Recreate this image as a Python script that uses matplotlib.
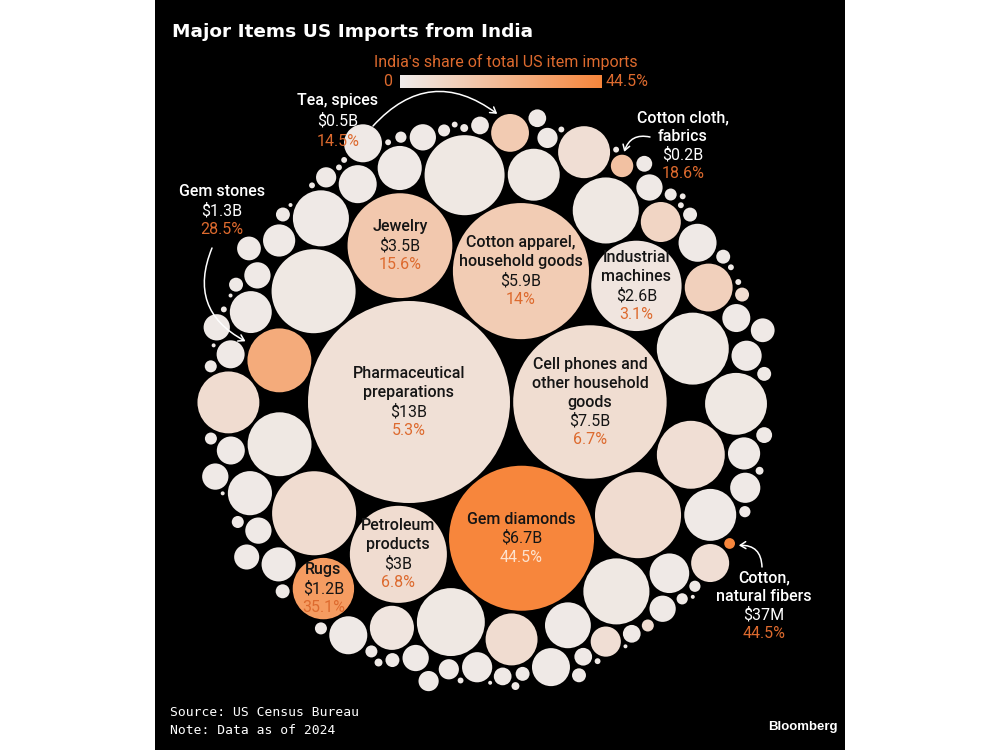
import math
import numpy as np
import matplotlib
matplotlib.use("Agg")
import matplotlib.pyplot as plt
from matplotlib.patches import Circle, FancyArrowPatch
from matplotlib.colors import LinearSegmentedColormap, Normalize

# labelled items: value in $B, India's share of total US imports of that item (%)
names = ["Pharmaceutical\npreparations", "Cell phones and\nother household\ngoods", "Gem diamonds",
         "Cotton apparel,\nhousehold goods", "Jewelry", "Petroleum\nproducts", "Industrial\nmachines",
         "Gem stones", "Rugs", "Tea, spices", "Cotton cloth,\nfabrics", "Cotton,\nnatural fibers"]
values = [13, 7.5, 6.7, 5.9, 3.5, 3.0, 2.6, 1.3, 1.2, 0.455, 0.16, 0.037]
value_labels = ["$13B", "$7.5B", "$6.7B", "$5.9B", "$3.5B", "$3B", "$2.6B",
                "$1.3B", "$1.2B", "$0.5B", "$0.2B", "$37M"]
shares = [5.3, 6.7, 44.5, 14, 15.6, 6.8, 3.1, 28.5, 35.1, 14.5, 18.6, 44.5]
outside = ["Gem stones", "Tea, spices", "Cotton cloth,\nfabrics", "Cotton,\nnatural fibers"]

# unlabelled items (estimated from bubble sizes and shades)
other_values = [2.36, 2.25, 2.25, 2.04, 1.65, 1.47, 1.47, 1.39, 1.39, 1.301, 1.22, 1.22,
                1.00, 0.86, 0.86, 0.86, 0.86, 0.73, 0.67, 0.62, 0.62, 0.62, 0.56, 0.51,
                0.50, 0.46, 0.46, 0.46, 0.46, 0.46, 0.46, 0.37, 0.33, 0.33,
                0.29, 0.29, 0.29, 0.29, 0.25, 0.25, 0.25,
                0.22, 0.22, 0.22, 0.22, 0.22, 0.22, 0.22, 0.22, 0.18, 0.18, 0.20,
                0.13, 0.13, 0.13, 0.13, 0.10, 0.10, 0.10, 0.10, 0.10, 0.08, 0.08,
                0.062, 0.062, 0.062, 0.062, 0.062, 0.062, 0.062, 0.062, 0.062, 0.062,
                0.046, 0.046, 0.046, 0.046, 0.046, 0.046, 0.046, 0.046,
                0.040, 0.040, 0.040, 0.040, 0.020, 0.020, 0.020, 0.020,
                0.011, 0.011, 0.011, 0.011, 0.011, 0.011, 0.011, 0.011, 0.011, 0.011,
                0.011, 0.011, 0.011, 0.011,
                0.005, 0.005, 0.005, 0.005, 0.005, 0.005, 0.005]
other_shares = [7, 2, 7, 2, 2, 2, 6, 2, 2, 2, 2, 7,
                1.5, 2, 7, 6, 1.5, 12, 1.5, 3, 1.5, 1.5, 1.5, 10,
                1.5, 1.5, 1.5, 1.5, 6, 1.5, 1.5, 1.5, 1.5, 1.5,
                1.5, 1.5, 1.5, 6, 1.5, 1.5, 1.5,
                1.5, 1.5, 1.5, 1.5, 1.5, 1.5, 1.5, 1.5, 1.5, 1.5, 1.5,
                1.5, 1.5, 1.5, 1.5, 1.5, 1.5, 1.5, 1.5, 1.5, 1.5, 1.5,
                1.5, 1.5, 1.5, 1.5, 7, 1.5, 1.5, 1.5, 1.5, 1.5,
                7, 1.5, 1.5, 1.5, 1.5, 1.5, 1.5, 1.5,
                1.5, 1.5, 1.5, 1.5, 1.5, 1.5, 1.5, 1.5,
                1.5, 1.5, 1.5, 1.5, 1.5, 1.5, 1.5, 1.5, 1.5, 1.5,
                1.5, 1.5, 1.5, 1.5,
                1.5, 1.5, 1.5, 1.5, 1.5, 1.5, 1.5]

SCALE = 101 / math.sqrt(13)   # px radius per sqrt($B)
PAD = 1.6


# --- d3.packSiblings port -------------------------------------------------
def place(b, a, c):
    dx, dy = b[0] - a[0], b[1] - a[1]
    d2 = dx * dx + dy * dy
    if d2:
        a2 = (a[2] + c[2]) ** 2
        b2 = (b[2] + c[2]) ** 2
        if a2 > b2:
            x = (d2 + b2 - a2) / (2 * d2)
            y = math.sqrt(max(0, b2 / d2 - x * x))
            c[0] = b[0] - x * dx - y * dy
            c[1] = b[1] - x * dy + y * dx
        else:
            x = (d2 + a2 - b2) / (2 * d2)
            y = math.sqrt(max(0, a2 / d2 - x * x))
            c[0] = a[0] + x * dx - y * dy
            c[1] = a[1] + x * dy + y * dx
    else:
        c[0] = a[0] + c[2]
        c[1] = a[1]


class Node:
    def __init__(self, c):
        self.c = c
        self.next = None
        self.prev = None


def intersects(a, b):
    dr = a[2] + b[2] - 1e-6
    dx, dy = b[0] - a[0], b[1] - a[1]
    return dr > 0 and dr * dr > dx * dx + dy * dy


def score(node):
    a, b = node.c, node.next.c
    ab = a[2] + b[2]
    dx = (a[0] * b[2] + b[0] * a[2]) / ab
    dy = (a[1] * b[2] + b[1] * a[2]) / ab
    return dx * dx + dy * dy


def pack_siblings(circles):
    n = len(circles)
    a = circles[0]
    a[0], a[1] = 0, 0
    b = circles[1]
    a[0] = -b[2]
    b[0], b[1] = a[2], 0
    c = circles[2]
    place(b, a, c)
    a, b, c = Node(a), Node(b), Node(c)
    a.next = c.prev = b
    b.next = a.prev = c
    c.next = b.prev = a
    i = 3
    while i < n:
        place(a.c, b.c, circles[i])
        c = Node(circles[i])
        j, k = b.next, a.prev
        sj, sk = b.c[2], a.c[2]
        retry = False
        while True:
            if sj <= sk:
                if intersects(j.c, c.c):
                    b = j
                    a.next = b
                    b.prev = a
                    retry = True
                    break
                sj += j.c[2]
                j = j.next
            else:
                if intersects(k.c, c.c):
                    a = k
                    a.next = b
                    b.prev = a
                    retry = True
                    break
                sk += k.c[2]
                k = k.prev
            if j is k.next:
                break
        if retry:
            continue
        c.prev = a
        c.next = b
        a.next = c
        b.prev = c
        b = c
        aa = score(a)
        c = c.next
        while c is not b:
            ca = score(c)
            if ca < aa:
                a, aa = c, ca
            c = c.next
        b = a.next
        i += 1


all_values = values + other_values
all_shares = shares + other_shares
all_ids = list(range(len(all_values)))
order = sorted(all_ids, key=lambda i: -all_values[i])
circles = [[0.0, 0.0, SCALE * math.sqrt(all_values[i]) + PAD] for i in order]
pack_siblings(circles)

pos = {}
for idx, c in zip(order, circles):
    pos[idx] = (c[0], c[1], c[2] - PAD)
# anchor the layout on the largest bubble
ox, oy = 409 - pos[0][0], 402 - pos[0][1]
pos = {k: (v[0] + ox, v[1] + oy, v[2]) for k, v in pos.items()}

cmap = LinearSegmentedColormap.from_list("share", ["#efeceb", "#f7863c"])
norm = Normalize(0, 44.5)

fig = plt.figure(figsize=(10, 7.5), dpi=100)
fig.patch.set_facecolor("white")
ax = fig.add_axes([0.155, 0, 0.69, 1])
ax.set_facecolor("black")
ax.set_xticks([])
ax.set_yticks([])
for s in ax.spines.values():
    s.set_visible(False)

for i in all_ids:
    x, y, r = pos[i]
    ax.add_patch(Circle((x, y), r, facecolor=cmap(norm(all_shares[i])), edgecolor="none"))

FONT = "Roboto"
ORANGE = "#dd6a2e"
DARK = "#151515"
LH = 19

# labels inside the big bubbles
for i, name in enumerate(names):
    if name in outside:
        continue
    x, y, r = pos[i]
    name_lines = name.split("\n")
    n_lines = len(name_lines) + 2
    y0 = y - (n_lines - 1) * LH / 2
    for k, ln in enumerate(name_lines):
        ax.text(x, y0 + k * LH, ln, ha="center", va="center", fontsize=11.5,
                family=FONT, fontweight="medium", color=DARK)
    ax.text(x, y0 + len(name_lines) * LH, value_labels[i], ha="center", va="center",
            fontsize=11.5, family=FONT, color=DARK)
    pct_col = "#fde3cf" if shares[i] > 40 else ORANGE
    ax.text(x, y0 + (len(name_lines) + 1) * LH, f"{shares[i]:g}%", ha="center", va="center",
            fontsize=11.5, family=FONT, color=pct_col)

# call-out labels: text anchor, arrow tail, curvature, line height,
# direction from the bubble centre to the arrow tip, gap to the bubble edge
callouts = {
    "Tea, spices": ((338, 100), (373, 126), -0.45, 21, (-0.56, -0.83), 4),
    "Cotton cloth,\nfabrics": ((683, 118), (650, 137), 0.45, 18.5, (0.15, -0.99), 3),
    "Gem stones": ((222, 192), (212, 248), 0.45, 18.5, (-0.87, -0.49), 7),
    "Cotton,\nnatural fibers": ((764, 578), (762, 567), 0.5, 18.5, (0.98, 0.2), 4),
}
for i, name in enumerate(names):
    if name not in outside:
        continue
    (tx, ty), (ax0, ay0), rad, lh, (ux, uy), gap = callouts[name]
    lines = name.split("\n")
    for k, ln in enumerate(lines):
        ax.text(tx, ty + k * lh, ln, ha="center", va="center", fontsize=11.5,
                family=FONT, fontweight="medium", color="white")
    ax.text(tx, ty + len(lines) * lh, value_labels[i], ha="center", va="center",
            fontsize=11.5, family=FONT, color="white")
    ax.text(tx, ty + (len(lines) + 1) * lh, f"{shares[i]:g}%", ha="center", va="center",
            fontsize=11.5, family=FONT, color=ORANGE)
    cx, cy, cr = pos[i]
    hx = cx + ux * (cr + gap)
    hy = cy + uy * (cr + gap)
    ax.add_patch(FancyArrowPatch((ax0, ay0), (hx, hy), connectionstyle=f"arc3,rad={rad}",
                                 arrowstyle="->,head_length=4,head_width=2.5",
                                 color="white", lw=1.1, shrinkA=0, shrinkB=0))

# title, legend, footer
ax.text(172, 32, "Major Items US Imports from India", ha="left", va="center",
        fontsize=13.3, fontweight="bold", color="white", family="DejaVu Sans")
ax.text(506, 62, "India's share of total US item imports", ha="center", va="center",
        fontsize=11.5, family=FONT, color=ORANGE)
grad = np.linspace(0, 44.5, 256).reshape(1, -1)
ax.imshow(grad, cmap=cmap, norm=norm, extent=[400, 602, 88, 75], aspect="auto")
ax.text(392, 82, "0", ha="right", va="center", fontsize=11.5, family=FONT, color=ORANGE)
ax.text(606, 82, "44.5%", ha="left", va="center", fontsize=11.5, family=FONT, color=ORANGE)
ax.set_xlim(155, 845)
ax.set_ylim(750, 0)

ax.text(170, 712, "Source: US Census Bureau", ha="left", va="center", fontsize=9.4,
        family="DejaVu Sans Mono", color="white")
ax.text(170, 731, "Note: Data as of 2024", ha="left", va="center", fontsize=9.4,
        family="DejaVu Sans Mono", color="white")
ax.text(838, 727, "Bloomberg", ha="right", va="center", fontsize=9.5, fontweight="bold",
        family="Liberation Sans", color="white")

fig.savefig("out.png", dpi=100, facecolor=fig.get_facecolor())
